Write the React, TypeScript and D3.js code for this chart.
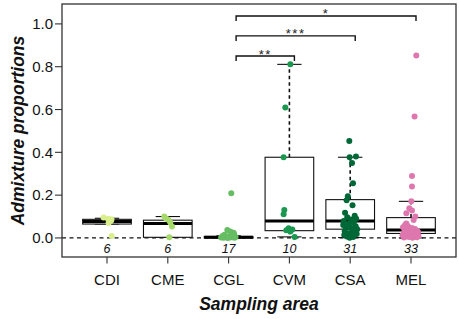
import React from "react";
import * as d3 from "d3";

const categories = ["CDI", "CME", "CGL", "CVM", "CSA", "MEL"];
const sampleSizes = [6, 6, 17, 10, 31, 33];
const colors = ["#d9ef8b", "#a6d96a", "#66bd63", "#1a9850", "#006837", "#de77ae"];

const q1 = [0.065, 0.003, 0.0, 0.034, 0.041, 0.021];
const medians = [0.077, 0.067, 0.003, 0.079, 0.079, 0.037];
const q3 = [0.087, 0.083, 0.007, 0.377, 0.179, 0.095];
const whiskerLow = [0.065, 0.003, 0.0, 0.005, 0.002, 0.0];
const whiskerHigh = [0.092, 0.1, 0.01, 0.811, 0.377, 0.171];

const pointsCDI = [0.095, 0.09, 0.087, 0.08, 0.07, 0.009];
const jitterCDI = [-0.056, 0.016, 0.074, 0.066, 0.026, 0.076];
const pointsCME = [0.1, 0.09, 0.085, 0.072, 0.053, 0.003];
const jitterCME = [-0.058, -0.025, 0.008, 0.041, 0.069, 0.025];
const pointsCGL = [0.209, 0.037, 0.03, 0.024, 0.019, 0.015, 0.012, 0.009, 0.007, 0.005, 0.004, 0.003, 0.002, 0.002, 0.001, 0.001, 0.0];
const jitterCGL = [0.044, -0.021, 0.028, 0.082, 0.09, -0.066, 0.049, -0.099, 0.008, 0.115, -0.041, 0.066, -0.123, 0.025, -0.082, 0.099, -0.016];
const pointsCVM = [0.811, 0.609, 0.377, 0.131, 0.111, 0.045, 0.04, 0.036, 0.03, 0.005];
const jitterCVM = [0.015, -0.067, -0.095, -0.084, -0.095, -0.013, 0.048, -0.051, 0.015, 0.086];
const pointsCSA = [
  0.453, 0.38, 0.377, 0.35, 0.255, 0.195, 0.176, 0.153, 0.118,
  0.104, 0.097, 0.09, 0.086, 0.079, 0.072, 0.066, 0.061, 0.055, 0.05, 0.046,
  0.041, 0.036, 0.031, 0.027, 0.022, 0.018, 0.014, 0.01, 0.007, 0.004, 0.001,
];
const jitterCSA = [
  -0.015, 0.095, -0.01, 0.03, 0.046, -0.039, -0.059, 0.038, -0.085,
  0.074, -0.049, 0.098, 0.016, -0.107, 0.057, -0.025, -0.115, 0.09, 0, -0.074,
  0.115, 0.041, -0.09, 0.066, -0.033, 0.107, -0.098, 0.025, -0.057, 0.049, -0.008,
];
const pointsMEL = [
  0.852, 0.567, 0.29, 0.24, 0.172, 0.139, 0.128, 0.115, 0.1, 0.084, 0.068,
  0.06, 0.055, 0.05, 0.046, 0.042, 0.038, 0.034, 0.031, 0.028, 0.025, 0.022,
  0.019, 0.016, 0.013, 0.011, 0.009, 0.007, 0.005, 0.004, 0.003, 0.002, 0.001,
];
const jitterMEL = [
  0.087, 0.059, 0.016, 0.016, 0.005, -0.028, 0.016, -0.077, 0.071, 0.043, -0.077,
  -0.098, -0.049, -0.131, 0.016, 0.066, -0.082, 0.098, -0.016, 0.115, -0.115, 0.041,
  -0.057, 0.082, -0.139, 0.008, 0.123, -0.09, 0.049, -0.033, 0.098, -0.115, 0.025,
];

const groupPoints = [pointsCDI, pointsCME, pointsCGL, pointsCVM, pointsCSA, pointsMEL];
const groupJitter = [jitterCDI, jitterCME, jitterCGL, jitterCVM, jitterCSA, jitterMEL];

const yTicks = [0, 0.2, 0.4, 0.6, 0.8, 1.0];
const comparisonFrom = ["CGL", "CGL", "CGL"];
const comparisonTo = ["CVM", "CSA", "MEL"];
const comparisonLabels = ["**", "***", "*"];
const comparisonLevels = [0.85, 0.944, 1.037];

const FONT = "'Liberation Sans', Arial, Helvetica, sans-serif";

export default function App() {
  const W = 459, H = 319;
  const left = 62, right = 456, top = 4, bottom = 257;
  const x = d3.scaleLinear().domain([0.26, 6.74]).range([left, right]);
  const y = d3.scaleLinear().domain([-0.089, 1.093]).range([bottom, top]);
  const pos = (i: number) => x(i + 1);
  const half = x(0.4) - x(0);
  const staple = x(0.2) - x(0);

  return (
    <svg width={W} height={H} style={{ position: "absolute", left: 0, top: 0, display: "block" }} fontFamily={FONT}>
      <rect x={0} y={0} width={W} height={H} fill="#fff" />
      {/* zero line */}
      <line x1={left} x2={right} y1={y(0)} y2={y(0)} stroke="#111" strokeWidth={1.3} strokeDasharray="4,3.5" />
      {/* boxes */}
      {categories.map((c, i) => {
        const cx = pos(i);
        return (
          <g key={c}>
            {whiskerHigh[i] > q3[i] && (
              <line x1={cx} x2={cx} y1={y(q3[i])} y2={y(whiskerHigh[i])} stroke="#111" strokeWidth={1.6} strokeDasharray="3.5,3" />
            )}
            {whiskerLow[i] < q1[i] && (
              <line x1={cx} x2={cx} y1={y(q1[i])} y2={y(whiskerLow[i])} stroke="#111" strokeWidth={1.6} strokeDasharray="3.5,3" />
            )}
            <line x1={cx - staple} x2={cx + staple} y1={y(whiskerHigh[i])} y2={y(whiskerHigh[i])} stroke="#111" strokeWidth={1.1} />
            <line x1={cx - staple} x2={cx + staple} y1={y(whiskerLow[i])} y2={y(whiskerLow[i])} stroke="#111" strokeWidth={1.1} />
            <rect x={cx - half} y={y(q3[i])} width={2 * half} height={Math.max(0.5, y(q1[i]) - y(q3[i]))} fill="#fff" stroke="#111" strokeWidth={1.1} />
            <line x1={cx - half} x2={cx + half} y1={y(medians[i])} y2={y(medians[i])} stroke="#000" strokeWidth={3} />
          </g>
        );
      })}
      {/* points */}
      {groupPoints.map((pts, i) =>
        pts.map((v, j) => (
          <circle key={`${i}-${j}`} cx={x(i + 1 + groupJitter[i][j])} cy={y(v)} r={3} fill={colors[i]} />
        ))
      )}
      {/* sample sizes */}
      {sampleSizes.map((n, i) => (
        <text key={`n${i}`} x={pos(i)} y={253} textAnchor="middle" fontSize={12.5} fontStyle="italic" fill="#111">
          {n}
        </text>
      ))}
      {/* comparison brackets */}
      {comparisonLabels.map((lab, k) => {
        const x1 = pos(categories.indexOf(comparisonFrom[k])) + 7.5;
        const x2 = pos(categories.indexOf(comparisonTo[k])) + 5;
        const yy = y(comparisonLevels[k]);
        return (
          <g key={`b${k}`}>
            <path d={`M${x1},${yy + 5}V${yy}H${x2}V${yy + 5}`} fill="none" stroke="#111" strokeWidth={1.4} />
            <text x={(x1 + x2) / 2} y={yy + 2.5} textAnchor="middle" fontSize={13} letterSpacing={1.5} fill="#222">
              {lab}
            </text>
          </g>
        );
      })}
      {/* frame */}
      <rect x={left} y={top} width={right - left} height={bottom - top} fill="none" stroke="#333" strokeWidth={1.3} />
      {/* y axis */}
      {yTicks.map((t) => (
        <g key={`y${t}`}>
          <line x1={left - 7} x2={left} y1={y(t)} y2={y(t)} stroke="#333" strokeWidth={1.1} />
          <text x={left - 9} y={y(t) + 5.3} textAnchor="end" fontSize={15} fill="#111">
            {d3.format(".1f")(t)}
          </text>
        </g>
      ))}
      {/* x axis */}
      {categories.map((c, i) => (
        <g key={`x${c}`}>
          <line x1={pos(i)} x2={pos(i)} y1={bottom} y2={bottom + 6.5} stroke="#333" strokeWidth={1.1} />
          <text x={pos(i)} y={285} textAnchor="middle" fontSize={15} fill="#111">
            {c}
          </text>
        </g>
      ))}
      <text x={(left + right) / 2} y={310} textAnchor="middle" fontSize={17.5} fontWeight="bold" fontStyle="italic" fill="#111">
        Sampling area
      </text>
      <text transform={`translate(23.5,${(top + bottom) / 2}) rotate(-90)`} textAnchor="middle" fontSize={17.5} fontWeight="bold" fontStyle="italic" fill="#111">
        Admixture proportions
      </text>
    </svg>
  );
}
